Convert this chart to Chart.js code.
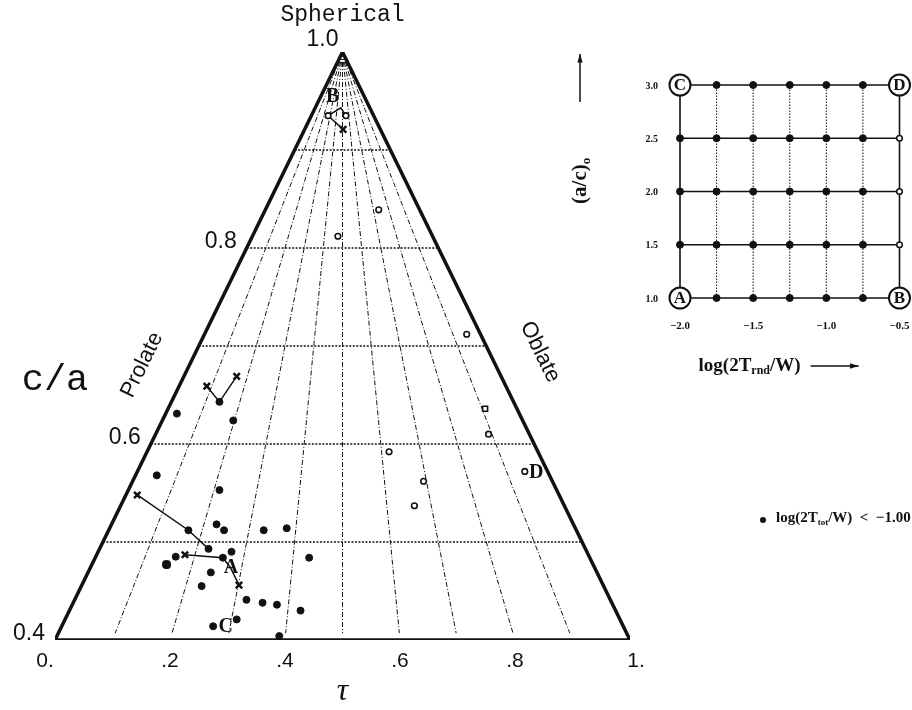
<!DOCTYPE html>
<html>
<head>
<meta charset="utf-8">
<script src="https://cdn.jsdelivr.net/npm/chart.js@4.4.1/dist/chart.umd.min.js"></script>
<style>
  body { margin: 0; background: #fff; }
  #wrap { position: relative; width: 912px; height: 710px; }
  #main { position: absolute; left: 0; top: 0; }
  #inset { position: absolute; left: 560px; top: 40px; }
</style>
</head>
<body>
<div id="wrap">
  <canvas id="main" width="912" height="710"></canvas>
  <canvas id="inset" width="352" height="360"></canvas>
</div>
<script>
// main triangle grid
const levels = [0.5, 0.6, 0.7, 0.8, 0.9];
const rayFractions = [0.1, 0.2, 0.3, 0.4, 0.5, 0.6, 0.7, 0.8, 0.9];
const xTicks = [0, 0.2, 0.4, 0.6, 0.8, 1.0];
const xTickLabels = ["0.", ".2", ".4", ".6", ".8", "1."];
const yTicks = [0.4, 0.6, 0.8, 1.0];
const yTickLabels = ["0.4", "0.6", "0.8", "1.0"];

// filled dots: log(2Ttot/W) < -1.00
const filledTau = [0.212, 0.310, 0.286, 0.177, 0.286, 0.281, 0.294, 0.232, 0.267, 0.363, 0.403, 0.307,
  0.210, 0.292, 0.271, 0.255, 0.442, 0.333, 0.361, 0.386, 0.427, 0.316, 0.275, 0.390];
const filledCa = [0.631, 0.624, 0.643, 0.568, 0.553, 0.518, 0.512, 0.512, 0.493, 0.512, 0.514, 0.490,
  0.485, 0.484, 0.469, 0.455, 0.484, 0.441, 0.438, 0.436, 0.430, 0.421, 0.414, 0.404];
const bigTau = [0.194];
const bigCa = [0.477];

// open circles
const openTau = [0.475, 0.506, 0.563, 0.492, 0.716, 0.754, 0.581, 0.641, 0.625, 0.817];
const openCa = [0.935, 0.935, 0.839, 0.812, 0.712, 0.610, 0.592, 0.562, 0.537, 0.572];
const squareTau = [0.748];
const squareCa = [0.636];

// crosses
const crossTau = [0.264, 0.316, 0.143, 0.226, 0.320, 0.501];
const crossCa = [0.659, 0.669, 0.548, 0.487, 0.456, 0.921];

// evolution tracks
const track1Tau = [0.264, 0.286, 0.316];
const track1Ca = [0.659, 0.643, 0.669];
const track2Tau = [0.143, 0.232, 0.267];
const track2Ca = [0.548, 0.512, 0.493];
const track3Tau = [0.226, 0.292, 0.305, 0.320];
const track3Ca = [0.487, 0.484, 0.474, 0.456];
const track4Tau = [0.501, 0.475, 0.497, 0.506];
const track4Ca = [0.921, 0.935, 0.943, 0.935];

const letterNames = ["A", "B", "C", "D"];
const letterTau = [0.306, 0.483, 0.297, 0.837];
const letterCa = [0.474, 0.954, 0.413, 0.571];

// inset grid
const insetX = [-2.0, -1.75, -1.5, -1.25, -1.0, -0.75, -0.5];
const insetY = [1.0, 1.5, 2.0, 2.5, 3.0];
const insetXTicks = [-2.0, -1.5, -1.0, -0.5];
const insetXTickLabels = ["\u22122.0", "\u22121.5", "\u22121.0", "\u22120.5"];
const insetYTickLabels = ["1.0", "1.5", "2.0", "2.5", "3.0"];
const cornerNames = ["A", "B", "C", "D"];
const cornerX = [-2.0, -0.5, -2.0, -0.5];
const cornerY = [1.0, 1.0, 3.0, 3.0];

const zip = (xs, ys) => xs.map((x, i) => ({ x: x, y: ys[i] }));
const leftEdge = (c) => (c - 0.4) / 0.6 * 0.5;

function seg(data, opts) {
  return Object.assign({ type: "scatter", data: data, showLine: true, pointRadius: 0,
    borderColor: "#111", borderWidth: 1, fill: false }, opts);
}

function pts(data, opts) {
  return Object.assign({ type: "scatter", data: data, showLine: false, pointRadius: 3.5,
    pointBackgroundColor: "#111", pointBorderColor: "#111", pointBorderWidth: 1 }, opts);
}

function drawSub(ctx, parts, x, y, size, family, measureOnly) {
  let cx = x;
  for (const [t, sub] of parts) {
    ctx.font = "bold " + (sub ? Math.round(size * 0.62) : size) + "px " + family;
    if (!measureOnly) ctx.fillText(t, cx, sub ? y + size * 0.28 : y);
    cx += ctx.measureText(t).width;
  }
  return cx;
}

function arrow(ctx, x1, y1, x2, y2) {
  const a = Math.atan2(y2 - y1, x2 - x1);
  ctx.beginPath();
  ctx.moveTo(x1, y1);
  ctx.lineTo(x2, y2);
  ctx.lineWidth = 1.5;
  ctx.stroke();
  ctx.beginPath();
  ctx.moveTo(x2, y2);
  ctx.lineTo(x2 - 9 * Math.cos(a - 0.3), y2 - 9 * Math.sin(a - 0.3));
  ctx.lineTo(x2 - 9 * Math.cos(a + 0.3), y2 - 9 * Math.sin(a + 0.3));
  ctx.closePath();
  ctx.fill();
}

// ---- main triangle chart ----
const mainSets = [];
levels.forEach((c) => {
  mainSets.push(seg([{ x: leftEdge(c), y: c }, { x: 1 - leftEdge(c), y: c }],
    { borderDash: [2, 1.5], borderWidth: 1.5, order: 10 }));
});
rayFractions.forEach((f) => {
  const c = 0.407;
  const l = leftEdge(c);
  mainSets.push(seg([{ x: 0.5, y: 1.0 }, { x: l + f * (1 - 2 * l), y: c }],
    { borderDash: [5, 2, 1, 2], borderWidth: 1, order: 10 }));
});
mainSets.push(seg([{ x: 0, y: 0.4 }, { x: 1, y: 0.4 }, { x: 0.5, y: 1.0 }, { x: 0, y: 0.4 }],
  { borderWidth: 3.5, order: 5, borderJoinStyle: "miter" }));
[[track1Tau, track1Ca], [track2Tau, track2Ca], [track3Tau, track3Ca], [track4Tau, track4Ca]].forEach(([t, c]) => {
  mainSets.push(seg(zip(t, c), { borderWidth: 1.5, order: 3 }));
});
mainSets.push(pts(zip(filledTau, filledCa), { order: 1 }));
mainSets.push(pts(zip(bigTau, bigCa), { pointRadius: 4.5, pointStyle: "rectRounded", order: 1 }));
mainSets.push(pts(zip(openTau, openCa), { pointRadius: 2.8, pointBackgroundColor: "#fff", pointBorderWidth: 1.6, order: 1 }));
mainSets.push(pts(zip(squareTau, squareCa), { pointRadius: 3.5, pointStyle: "rect", pointBackgroundColor: "#fff", pointBorderWidth: 1.6, order: 1 }));
mainSets.push(pts(zip(crossTau, crossCa), { pointRadius: 4.5, pointStyle: "crossRot", pointBorderWidth: 2.5, order: 1 }));

const mainText = {
  id: "mainText",
  afterDatasetsDraw(chart) {
    const ctx = chart.ctx;
    const xs = chart.scales.x, ys = chart.scales.y;
    ctx.save();
    ctx.fillStyle = "#111";
    ctx.strokeStyle = "#111";
    ctx.textBaseline = "middle";
    // tau ticks
    ctx.font = "21px 'Liberation Sans', Arial, sans-serif";
    ctx.textAlign = "center";
    xTicks.forEach((v, i) => {
      let px = xs.getPixelForValue(v);
      if (i === 0) px -= 10;
      if (i === xTicks.length - 1) px += 6;
      ctx.fillText(xTickLabels[i], px, ys.getPixelForValue(0.4) + 21);
    });
    // c/a ticks beside the left edge
    ctx.font = "23px 'Liberation Sans', Arial, sans-serif";
    ctx.textAlign = "right";
    yTicks.forEach((v, i) => {
      if (v >= 1.0) {
        ctx.fillText(yTickLabels[i], xs.getPixelForValue(0.5) - 4, ys.getPixelForValue(v) - 12);
      } else {
        ctx.fillText(yTickLabels[i], xs.getPixelForValue(leftEdge(v)) - 10, ys.getPixelForValue(v) - 6);
      }
    });
    ctx.textAlign = "center";
    ctx.font = "23px 'Liberation Mono', monospace";
    ctx.fillText("Spherical", xs.getPixelForValue(0.5), ys.getPixelForValue(1.0) - 37);
    ctx.font = "37px 'Liberation Mono', monospace";
    ctx.fillText("c/a", 55, 380);
    ctx.font = "italic 32px 'Liberation Serif', serif";
    ctx.fillText("\u03c4", xs.getPixelForValue(0.5), ys.getPixelForValue(0.4) + 52);
    // edge labels
    const ang = Math.atan2(ys.getPixelForValue(1.0) - ys.getPixelForValue(0.4),
      xs.getPixelForValue(0.5) - xs.getPixelForValue(0));
    ctx.font = "22px 'Liberation Sans', Arial, sans-serif";
    ctx.save();
    ctx.translate(142, 365);
    ctx.rotate(ang);
    ctx.fillText("Prolate", 0, 0);
    ctx.restore();
    ctx.save();
    ctx.translate(540, 352);
    ctx.rotate(-ang);
    ctx.fillText("Oblate", 0, 0);
    ctx.restore();
    // model letters
    ctx.font = "bold 20px 'Liberation Serif', serif";
    letterNames.forEach((n, i) => {
      ctx.fillText(n, xs.getPixelForValue(letterTau[i]), ys.getPixelForValue(letterCa[i]));
    });
    // legend
    ctx.beginPath();
    ctx.arc(763, 520, 3, 0, Math.PI * 2);
    ctx.fill();
    ctx.textAlign = "left";
    drawSub(ctx, [["log(2T", false], ["tot", true], ["/W)  <  \u22121.00", false]], 776, 518, 15, "'Liberation Serif', serif");
    ctx.restore();
  }
};

new Chart(document.getElementById("main"), {
  type: "scatter",
  data: { datasets: mainSets },
  options: {
    responsive: false,
    animation: false,
    devicePixelRatio: 1,
    layout: { padding: { left: 55, right: 282, top: 52, bottom: 70 } },
    plugins: { legend: { display: false }, tooltip: { enabled: false } },
    scales: {
      x: { type: "linear", min: 0, max: 1, display: false },
      y: { type: "linear", min: 0.4, max: 1.0, display: false }
    },
    elements: { line: { tension: 0 } }
  },
  plugins: [mainText]
});

// ---- inset chart ----
const insetSets = [];
insetY.forEach((yv) => {
  insetSets.push(seg([{ x: insetX[0], y: yv }, { x: insetX[insetX.length - 1], y: yv }],
    { borderWidth: 1.6, order: 10 }));
});
insetX.forEach((xv, i) => {
  const outer = i === 0 || i === insetX.length - 1;
  insetSets.push(seg([{ x: xv, y: insetY[0] }, { x: xv, y: insetY[insetY.length - 1] }],
    outer ? { borderWidth: 1.6, order: 10 } : { borderWidth: 1, borderDash: [1.5, 1.5], order: 10 }));
});
const gridFilled = [], gridOpen = [];
insetX.forEach((xv, i) => {
  insetY.forEach((yv, j) => {
    const corner = (i === 0 || i === insetX.length - 1) && (j === 0 || j === insetY.length - 1);
    if (corner) return;
    if (i === insetX.length - 1) gridOpen.push({ x: xv, y: yv });
    else gridFilled.push({ x: xv, y: yv });
  });
});
insetSets.push(pts(gridFilled, { pointRadius: 3.5, order: 1 }));
insetSets.push(pts(gridOpen, { pointRadius: 2.8, pointBackgroundColor: "#fff", pointBorderWidth: 1.5, order: 1 }));
insetSets.push(pts(zip(cornerX, cornerY), { pointRadius: 10.5, pointBackgroundColor: "#fff", pointBorderWidth: 2, order: 1 }));

const insetText = {
  id: "insetText",
  afterDatasetsDraw(chart) {
    const ctx = chart.ctx;
    const xs = chart.scales.x, ys = chart.scales.y;
    const fam = "'Liberation Serif', serif";
    ctx.save();
    ctx.fillStyle = "#111";
    ctx.strokeStyle = "#111";
    ctx.textBaseline = "middle";
    ctx.textAlign = "center";
    ctx.font = "bold 17px " + fam;
    cornerNames.forEach((n, i) => {
      ctx.fillText(n, xs.getPixelForValue(cornerX[i]), ys.getPixelForValue(cornerY[i]) + 1);
    });
    ctx.font = "bold 11px " + fam;
    insetXTicks.forEach((v, i) => {
      ctx.fillText(insetXTickLabels[i], xs.getPixelForValue(v), ys.getPixelForValue(insetY[0]) + 28);
    });
    ctx.font = "bold 10px " + fam;
    ctx.textAlign = "right";
    insetY.forEach((v, i) => {
      ctx.fillText(insetYTickLabels[i], xs.getPixelForValue(insetX[0]) - 22, ys.getPixelForValue(v) + 1);
    });
    ctx.textAlign = "left";
    const x0 = xs.getPixelForValue(-1.75) - 18;
    const yb = ys.getPixelForValue(insetY[0]) + 68;
    const end = drawSub(ctx, [["log(2T", false], ["rnd", true], ["/W)", false]], x0, yb, 19, fam);
    arrow(ctx, end + 10, yb, end + 58, yb);
    // rotated (a/c)o label with upward arrow
    const lab = [["(a/c)", false], ["o", true]];
    const w = drawSub(ctx, lab, 0, 0, 21, fam, true);
    ctx.save();
    ctx.translate(21, ys.getPixelForValue(2.1));
    ctx.rotate(-Math.PI / 2);
    drawSub(ctx, lab, -w / 2, 0, 21, fam);
    ctx.restore();
    arrow(ctx, 20, 62, 20, 14);
    ctx.restore();
  }
};

new Chart(document.getElementById("inset"), {
  type: "scatter",
  data: { datasets: insetSets },
  options: {
    responsive: false,
    animation: false,
    devicePixelRatio: 1,
    clip: false,
    layout: { padding: { left: 120, right: 10, top: 45, bottom: 102 } },
    plugins: { legend: { display: false }, tooltip: { enabled: false } },
    scales: {
      x: { type: "linear", min: -2.0, max: -0.5, display: false },
      y: { type: "linear", min: 1.0, max: 3.0, display: false }
    }
  },
  plugins: [insetText]
});
</script>
</body>
</html>
